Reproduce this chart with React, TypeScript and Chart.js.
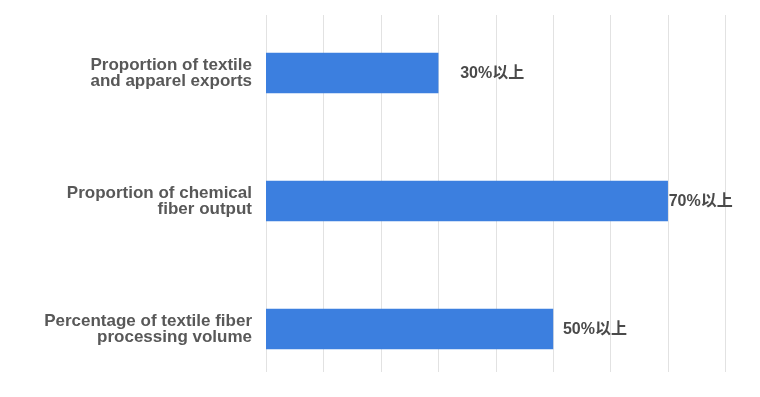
import React, { useEffect, useRef } from "react";
import { Chart, registerables } from "chart.js";

Chart.register(...registerables);

const categories: string[][] = [
  ["Proportion of textile", "and apparel exports"],
  ["Proportion of chemical", "fiber output"],
  ["Percentage of textile fiber", "processing volume"],
];
const values: number[] = [30, 70, 50];
const valueLabels: string[] = ["30%以上", "70%以上", "50%以上"];
const labelOffsets: number[] = [22, 1, 10];

const gridPlugin = {
  id: "customGrid",
  beforeDatasetsDraw(chart: any) {
    const { ctx, chartArea, scales } = chart;
    const x = scales.x;
    ctx.save();
    ctx.strokeStyle = "#e2e2e2";
    ctx.lineWidth = 1;
    const top = chartArea.top + 6;
    const bottom = chartArea.bottom - 21;
    x.ticks.forEach((t: any) => {
      const px = Math.round(x.getPixelForValue(t.value)) + 0.5;
      ctx.beginPath();
      ctx.moveTo(px, top);
      ctx.lineTo(px, bottom);
      ctx.stroke();
    });
    ctx.restore();
  },
};

const valueLabelPlugin = {
  id: "valueLabels",
  afterDatasetsDraw(chart: any) {
    const { ctx } = chart;
    const meta = chart.getDatasetMeta(0);
    ctx.save();
    ctx.font = "bold 16px 'Liberation Sans', Arial, 'Noto Sans CJK SC', sans-serif";
    ctx.fillStyle = "#4a4a4a";
    ctx.textAlign = "left";
    ctx.textBaseline = "middle";
    meta.data.forEach((bar: any, i: number) => {
      ctx.fillText(valueLabels[i], bar.x + labelOffsets[i], bar.y + 1);
    });
    ctx.restore();
  },
};

export default function App() {
  const canvasRef = useRef<HTMLCanvasElement | null>(null);
  useEffect(() => {
    if (!canvasRef.current) return;
    const chart = new Chart(canvasRef.current, {
      type: "bar",
      data: {
        labels: categories,
        datasets: [
          {
            data: values,
            backgroundColor: "#3c7fdf",
            borderWidth: 0,
            barThickness: 40,
          },
        ],
      },
      options: {
        indexAxis: "y",
        animation: false,
        responsive: false,
        maintainAspectRatio: false,
        layout: { padding: { top: 9, bottom: 4, right: 35, left: 0 } },
        plugins: {
          legend: { display: false },
          tooltip: { enabled: false },
        },
        scales: {
          x: {
            min: 0,
            max: 80,
            ticks: { display: false, stepSize: 10 },
            grid: { display: false },
            border: { display: false },
            afterFit: (scale: any) => {
              scale.height = 0;
              scale.paddingLeft = 0;
              scale.paddingRight = 0;
            },
          },
          y: {
            grid: { display: false },
            border: { display: false },
            afterFit: (scale: any) => {
              scale.width = 266;
              scale.paddingTop = 0;
              scale.paddingBottom = 0;
            },
            ticks: {
              padding: 6,
              color: "#585858",
              font: {
                family: "'Liberation Sans', Arial, sans-serif",
                size: 17,
                weight: "bold",
                lineHeight: 0.92,
              },
            },
          },
        },
      },
      plugins: [gridPlugin, valueLabelPlugin],
    });
    return () => chart.destroy();
  }, []);
  return (
    <div style={{ position: "absolute", left: 0, top: 0, width: 760, height: 397, background: "#fff" }}>
      <canvas ref={canvasRef} width={760} height={397} />
    </div>
  );
}
